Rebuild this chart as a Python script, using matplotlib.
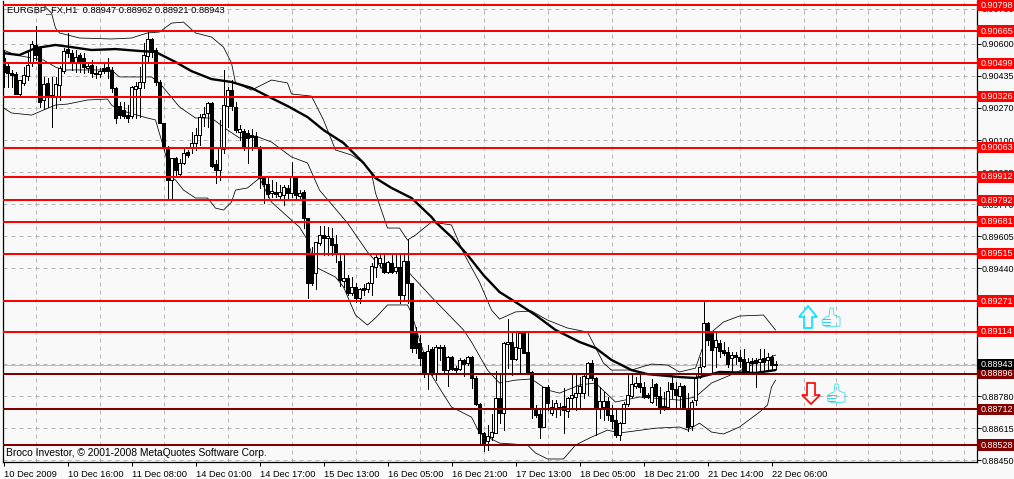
"""EURGBP H1 candle chart with Bollinger bands and support/resistance levels."""

import matplotlib

matplotlib.use("Agg")  # headless
import matplotlib.pyplot as plt  # noqa: E402
import numpy as np  # noqa: E402
from matplotlib.patches import Polygon, Rectangle  # noqa: E402
from matplotlib.transforms import ScaledTranslation, blended_transform_factory  # noqa: E402

# all prices below are in 1e-5 units (points)
opens = [90526, 90484, 90448, 90443, 90340, 90397, 90433, 90500, 90593, 90577,
         90309, 90397, 90335, 90324, 90386, 90458, 90572, 90551, 90500, 90541,
         90526, 90474, 90489, 90448, 90443, 90474, 90479, 90464, 90371, 90278,
         90257, 90231, 90226, 90366, 90371, 90402, 90536, 90624, 90567, 90402,
         90190, 90066, 89896, 90009, 89927, 89984, 90040, 90061, 90087, 90128,
         90221, 90242, 90293, 89978, 89947, 90056, 90278, 90360, 90273, 90144,
         90149, 90138, 90128, 90123, 90066, 89906, 89875, 89829, 89834, 89813,
         89818, 89855, 89829, 89911, 89813, 89834, 89700, 89509, 89416, 89571,
         89612, 89596, 89596, 89566, 89478, 89375, 89390, 89313, 89344, 89287,
         89338, 89333, 89364, 89447, 89467, 89467, 89421, 89467, 89426, 89447,
         89302, 89478, 89364, 89106, 89055, 89008, 88900, 89023, 88900, 89034,
         89034, 88915, 88982, 88925, 88920, 88967, 88951, 88982, 88874, 88740,
         88590, 88548, 88569, 88590, 88770, 88693, 89049, 89060, 88972, 89029,
         89106, 89008, 88905, 88714, 88688, 88621, 88827, 88693, 88719, 88724,
         88729, 88703, 88770, 88776, 88796, 88796, 88874, 88951, 88874, 88719,
         88724, 88755, 88683, 88657, 88580, 88641, 88739, 88781, 88832, 88848,
         88827, 88786, 88750, 88843, 88781, 88729, 88724, 88848, 88817, 88781,
         88832, 88719, 88626, 88760, 88879, 88936, 89158, 89111, 89034, 89055,
         89018, 89008, 88977, 88992, 88982, 88972, 88910, 88961, 88967, 88956,
         88977, 88967, 88982, 88947]
highs = [90567, 90500, 90464, 90453, 90412, 90479, 90567, 90613, 90691, 90587,
         90428, 90422, 90428, 90428, 90484, 90577, 90655, 90567, 90567, 90551,
         90551, 90505, 90515, 90484, 90474, 90505, 90526, 90479, 90376, 90298,
         90298, 90283, 90381, 90402, 90479, 90603, 90660, 90629, 90577, 90412,
         90190, 90071, 90009, 90015, 90004, 90061, 90051, 90144, 90164, 90237,
         90273, 90298, 90298, 89999, 90206, 90464, 90376, 90412, 90298, 90180,
         90159, 90154, 90159, 90144, 90071, 89911, 89906, 89896, 89885, 89870,
         89870, 89870, 89989, 89911, 89844, 89844, 89700, 89550, 89576, 89658,
         89658, 89653, 89648, 89612, 89509, 89509, 89405, 89395, 89364, 89338,
         89359, 89369, 89467, 89509, 89509, 89509, 89478, 89509, 89509, 89509,
         89509, 89591, 89364, 89137, 89096, 89008, 89044, 89034, 89044, 89044,
         89044, 88987, 88987, 88936, 88977, 88972, 88987, 88987, 88884, 88745,
         88595, 88631, 88688, 88910, 88889, 89060, 89178, 89106, 89106, 89111,
         89111, 89106, 88910, 88734, 88709, 88827, 88838, 88760, 88760, 88745,
         88822, 88776, 88889, 88889, 88879, 88900, 88956, 88967, 88879, 88827,
         88801, 88776, 88734, 88719, 88647, 88750, 88900, 88900, 88879, 88905,
         88853, 88796, 88869, 88848, 88827, 88801, 88853, 88879, 88853, 88848,
         88838, 88796, 88760, 88900, 88982, 89266, 89163, 89116, 89116, 89070,
         89060, 89034, 89008, 89008, 89018, 89023, 88977, 88977, 88977, 89023,
         89023, 89003, 88992, 88962]
lows = [90376, 90376, 90376, 90340, 90335, 90386, 90412, 90484, 90515, 90273,
        90262, 90273, 90169, 90268, 90309, 90448, 90531, 90464, 90453, 90453,
        90448, 90453, 90428, 90422, 90428, 90448, 90422, 90350, 90190, 90216,
        90216, 90195, 90216, 90216, 90221, 90371, 90500, 90531, 90386, 90190,
        90051, 89793, 89793, 89911, 89911, 89978, 90015, 90035, 90051, 90076,
        90175, 90169, 89963, 89880, 89896, 90035, 90169, 90257, 90144, 90102,
        90051, 89984, 90051, 90061, 89854, 89777, 89808, 89808, 89808, 89798,
        89767, 89803, 89808, 89803, 89803, 89648, 89287, 89354, 89333, 89560,
        89509, 89509, 89509, 89473, 89349, 89344, 89302, 89302, 89266, 89261,
        89302, 89318, 89302, 89395, 89447, 89416, 89416, 89416, 89416, 89261,
        89276, 89261, 89008, 89003, 88941, 88879, 88817, 88889, 88863, 88967,
        88905, 88832, 88915, 88905, 88915, 88884, 88941, 88822, 88734, 88538,
        88497, 88502, 88554, 88590, 88641, 88605, 88925, 88889, 88967, 88900,
        89003, 88900, 88667, 88672, 88564, 88621, 88709, 88683, 88672, 88683,
        88590, 88672, 88719, 88709, 88719, 88770, 88786, 88863, 88580, 88667,
        88657, 88657, 88616, 88569, 88554, 88641, 88729, 88776, 88822, 88801,
        88770, 88770, 88745, 88734, 88693, 88709, 88719, 88770, 88724, 88724,
        88714, 88600, 88605, 88734, 88874, 88930, 89044, 88900, 88930, 88982,
        88992, 88930, 88905, 88946, 88930, 88905, 88905, 88905, 88827, 88900,
        88915, 88915, 88915, 88921]
closes = [90453, 90448, 90438, 90340, 90412, 90438, 90489, 90598, 90541, 90298,
          90391, 90329, 90324, 90391, 90474, 90562, 90551, 90500, 90531, 90505,
          90479, 90484, 90448, 90443, 90458, 90458, 90458, 90371, 90216, 90231,
          90226, 90216, 90376, 90381, 90402, 90541, 90624, 90557, 90402, 90190,
          90066, 89896, 90009, 89947, 89984, 90035, 90025, 90087, 90128, 90221,
          90237, 90293, 89968, 89947, 90061, 90283, 90360, 90278, 90154, 90159,
          90066, 90113, 90118, 90066, 89906, 89875, 89824, 89839, 89824, 89834,
          89860, 89829, 89911, 89818, 89829, 89700, 89364, 89364, 89576, 89612,
          89596, 89607, 89560, 89519, 89380, 89390, 89313, 89344, 89287, 89333,
          89328, 89364, 89452, 89498, 89493, 89421, 89473, 89421, 89447, 89302,
          89478, 89364, 89029, 89029, 88977, 88905, 89013, 88900, 89034, 89029,
          88915, 88982, 88920, 88915, 88967, 88946, 88982, 88874, 88740, 88590,
          88533, 88574, 88595, 88770, 88693, 89055, 89060, 88972, 89034, 89106,
          89003, 88900, 88719, 88683, 88621, 88827, 88745, 88724, 88745, 88719,
          88709, 88770, 88786, 88796, 88832, 88884, 88951, 88874, 88719, 88755,
          88755, 88683, 88652, 88580, 88641, 88739, 88786, 88843, 88848, 88827,
          88776, 88776, 88827, 88781, 88724, 88719, 88807, 88817, 88786, 88832,
          88719, 88621, 88750, 88879, 88930, 89158, 89070, 89018, 89070, 89013,
          89003, 88946, 88992, 88982, 88961, 88910, 88956, 88951, 88951, 88972,
          88956, 88982, 88941, 88943]

ma_bars = [0, 4, 8, 13, 17, 22, 28, 34, 38, 43, 47, 52, 57, 62, 66, 71, 76, 80,
           85, 90, 93, 97, 102, 107, 108, 112, 116, 120, 124, 128, 133, 138,
           144, 148, 152, 157, 161, 169, 173, 177, 179, 188, 193]
ma_values = [90551, 90541, 90577, 90593, 90582, 90567, 90572, 90562, 90557,
             90505, 90458, 90417, 90402, 90371, 90329, 90278, 90221, 90154,
             90087, 89984, 89906, 89855, 89803, 89705, 89679, 89602, 89509,
             89405, 89318, 89266, 89199, 89122, 89060, 89029, 88967, 88915,
             88894, 88879, 88874, 88894, 88905, 88900, 88915]

upper_bars = [10, 12, 13, 14, 19, 27, 32, 36, 39, 42, 45, 48, 52, 55, 57, 58, 62,
              67, 71, 72, 77, 80, 83, 87, 90, 92, 93, 96, 99, 101, 103, 107,
              112, 115, 119, 122, 124, 128, 132, 136, 141, 146, 150, 152, 157,
              162, 166, 169, 173, 175, 177, 180, 184, 190, 193]
upper_values = [90799, 90758, 90680, 90655, 90629, 90624, 90629, 90655, 90660,
                90706, 90711, 90655, 90634, 90582, 90500, 90397, 90360, 90412,
                90397, 90340, 90329, 90206, 90051, 90025, 89984, 89932, 89829,
                89648, 89648, 89586, 89612, 89679, 89664, 89519, 89369, 89225,
                89178, 89215, 89220, 89173, 89132, 89111, 88951, 88915, 88915,
                88946, 88941, 88905, 88925, 89044, 89111, 89163, 89194, 89199,
                89122]

middle_bars = [0, 3, 10, 13, 15, 27, 29, 37, 39, 44, 48, 52, 56, 59, 63, 67, 72,
               76, 79, 86, 91, 95, 101, 107, 115, 117, 121, 124, 128, 132, 136,
               139, 144, 148, 153, 159, 169, 173, 177, 183, 188, 193]
middle_values = [90567, 90541, 90515, 90479, 90464, 90464, 90428, 90428, 90397,
                 90273, 90216, 90216, 90154, 90113, 90123, 90092, 90015, 89984,
                 89844, 89674, 89524, 89431, 89426, 89292, 89122, 89060, 88915,
                 88848, 88863, 88869, 88812, 88796, 88838, 88848, 88750, 88776,
                 88760, 88776, 88848, 88900, 88951, 88992]

lower_bars = [0, 2, 7, 10, 13, 16, 21, 26, 27, 29, 36, 38, 40, 42, 43, 45, 48, 51,
              53, 55, 57, 58, 61, 64, 67, 72, 74, 76, 78, 83, 85, 88, 91, 93,
              96, 101, 102, 104, 107, 109, 112, 117, 119, 124, 131, 133, 136,
              140, 143, 147, 151, 154, 163, 169, 171, 174, 177, 180, 184, 189,
              191, 192, 193]
lower_values = [90268, 90242, 90231, 90257, 90283, 90288, 90309, 90314, 90283,
                90257, 90216, 90206, 90066, 89911, 89896, 89844, 89803, 89803,
                89751, 89741, 89782, 89844, 89855, 89906, 89782, 89689, 89653,
                89586, 89447, 89395, 89344, 89199, 89147, 89184, 89251, 89251,
                89209, 89070, 88889, 88822, 88724, 88672, 88590, 88538, 88528,
                88487, 88456, 88456, 88528, 88569, 88605, 88590, 88615, 88621,
                88605, 88641, 88595, 88585, 88621, 88698, 88734, 88827, 88863]

resistance_levels = [90798, 90665, 90499, 90326, 90063, 89912, 89792, 89681,
                     89515, 89271, 89114]
support_levels = [88896, 88712, 88528]
last_price = 88943

price_ticks = [88450, 88615, 88780, 88945, 89110, 89275, 89440, 89605, 89770,
               89935, 90100, 90270, 90435, 90600, 90780]
price_tick_labels = ["0.88450", "0.88615", "0.88780", "0.88943", "0.89110",
                     "0.89275", "0.89440", "0.89605", "0.89770", "0.89935",
                     "0.90100", "0.90270", "0.90435", "0.90600", "0.90780"]
time_tick_bars = list(range(0, 193, 16))
time_tick_labels = ["10 Dec 2009", "10 Dec 16:00", "11 Dec 08:00", "14 Dec 01:00",
                    "14 Dec 17:00", "15 Dec 13:00", "16 Dec 05:00", "16 Dec 21:00",
                    "17 Dec 13:00", "18 Dec 05:00", "18 Dec 21:00", "21 Dec 14:00",
                    "22 Dec 06:00"]

W, H = 1014, 479
BG = "#f9f9f9"
RED = "#ff0000"
DARK = "#800000"
GRID = "#b4b4b4"
FONT = "Liberation Sans"
FONT_SIZE = 6.5


def to_price(points):
    return np.asarray(points) / 1e5


def thumb(overlay, x, y):
    """Little outlined thumbs-up glyph, drawn in image pixels around (x, y)."""
    outline = [(-9, 2), (-5, -1), (-2, -2), (-1, -10), (2, -10), (3, -3), (9, -1),
               (9, 8), (-3, 9), (-8, 7)]
    pts = [(x + dx, y + dy) for dx, dy in outline]
    overlay.add_patch(Polygon(pts, closed=True, fc="none", ec="#33ddee", lw=0.6))
    for dy in (1, 4, 7):
        overlay.plot([x - 8, x - 1], [y + dy, y + dy], color="#00ccdd", lw=0.6)


def main():
    o, h, l, c = map(to_price, (opens, highs, lows, closes))
    bars = np.arange(len(o))

    fig = plt.figure(figsize=(W / 100, H / 100), dpi=100, facecolor=BG)
    ax = fig.add_axes([2.5 / W, 1 - 461.5 / H, 974 / W, 460.5 / H], facecolor=BG)
    ax.set_xlim(-0.25, 243.25)
    ax.set_ylim(0.88443, 0.90820)

    # dashed grid: verticals every 8 bars, horizontals on the price ticks
    ax.set_xticks(np.arange(0, 243, 8), minor=True)
    ax.grid(True, which="minor", axis="x", color=GRID, ls=(0, (4, 4)), lw=0.72)
    ax.set_yticks(to_price(price_ticks))
    ax.set_yticklabels(price_tick_labels, fontsize=FONT_SIZE, family=FONT)
    ax.grid(True, which="major", axis="y", color=GRID, ls=(0, (4, 4)), lw=0.72)
    ax.yaxis.tick_right()
    ax.tick_params(axis="y", length=3, width=0.72, pad=1)
    ax.set_xticks(time_tick_bars)
    ax.set_xticklabels(time_tick_labels, fontsize=FONT_SIZE + 0.2, family=FONT, ha="left")
    nudge = ScaledTranslation(-2 / 100, 0, fig.dpi_scale_trans)
    for label in ax.get_xticklabels():
        label.set_transform(label.get_transform() + nudge)
    ax.tick_params(axis="x", which="major", length=3, width=0.72, pad=3)
    ax.tick_params(axis="x", which="minor", length=0)
    ax.set_axisbelow(True)
    for spine in ax.spines.values():
        spine.set_linewidth(0.9)
    ax.spines["top"].set_visible(False)

    # current price line
    ax.axhline(last_price / 1e5, color="#c0c0c0", lw=0.8, zorder=1)

    # bands
    for xs, ys in ((upper_bars, upper_values), (middle_bars, middle_values),
                   (lower_bars, lower_values)):
        ax.plot(xs, to_price(ys), color="black", lw=0.55, zorder=2)

    # candles
    ax.vlines(bars, l, h, color="black", lw=0.6, antialiased=False, zorder=3)
    up = c >= o
    ax.bar(bars[up], (c - o)[up], bottom=o[up], width=0.55, color="white",
           edgecolor="black", lw=0.72, antialiased=False, zorder=4)
    ax.bar(bars[~up], (o - c)[~up], bottom=c[~up], width=0.55, color="black",
           edgecolor="black", lw=0.72, antialiased=False, zorder=4)

    # moving average
    ax.plot(ma_bars, to_price(ma_values), color="black", lw=1.7,
            solid_capstyle="round", zorder=5)

    # levels, with their price tags in the right margin
    tag = blended_transform_factory(fig.transFigure, ax.transData)
    tags = [(p, RED) for p in resistance_levels] + [(p, DARK) for p in support_levels]
    tags.append((last_price, "black"))
    for points, color in tags:
        price = points / 1e5
        if color != "black":
            ax.axhline(price, color=color, lw=1.45, zorder=6)
        box_h = 58e-5 if color != "black" else 60e-5
        ax.add_patch(Rectangle((977 / W, price - box_h / 2), 37 / W, box_h, fc=color,
                               ec="none", transform=tag, clip_on=False, zorder=7))
        ax.text(980.5 / W, price, f"{price:.5f}", color="white", fontsize=FONT_SIZE,
                family=FONT, va="center", ha="left", transform=tag, clip_on=False, zorder=8)

    fig.text(7 / W, 1 - 10 / H, "EURGBP_FX,H1  0.88947 0.88962 0.88921 0.88943",
             fontsize=6.7, family=FONT, va="center", zorder=9)
    fig.text(6 / W, 1 - 453 / H, "Broco Investor, © 2001-2008 MetaQuotes Software Corp.",
             fontsize=7.35, family=FONT, va="center", zorder=9)

    # signal arrows and thumbs, placed in image pixels
    overlay = fig.add_axes([0, 0, 1, 1], facecolor="none")
    overlay.set_xlim(0, W)
    overlay.set_ylim(H, 0)
    overlay.axis("off")
    up_arrow = [(808, 306), (817, 317), (812, 317), (812, 328), (804, 328), (804, 317), (799, 317)]
    down_arrow = [(807, 383), (815, 383), (815, 395), (820, 395), (811, 404), (802, 395), (807, 395)]
    overlay.add_patch(Polygon(up_arrow, closed=True, fc="none", ec="#00e5ff", lw=1.2))
    overlay.add_patch(Polygon(down_arrow, closed=True, fc="none", ec=RED, lw=1.2))
    thumb(overlay, 831, 318)
    thumb(overlay, 836, 394)

    fig.savefig("out.png", dpi=100, facecolor=BG)
    plt.close(fig)


if __name__ == "__main__":
    main()
